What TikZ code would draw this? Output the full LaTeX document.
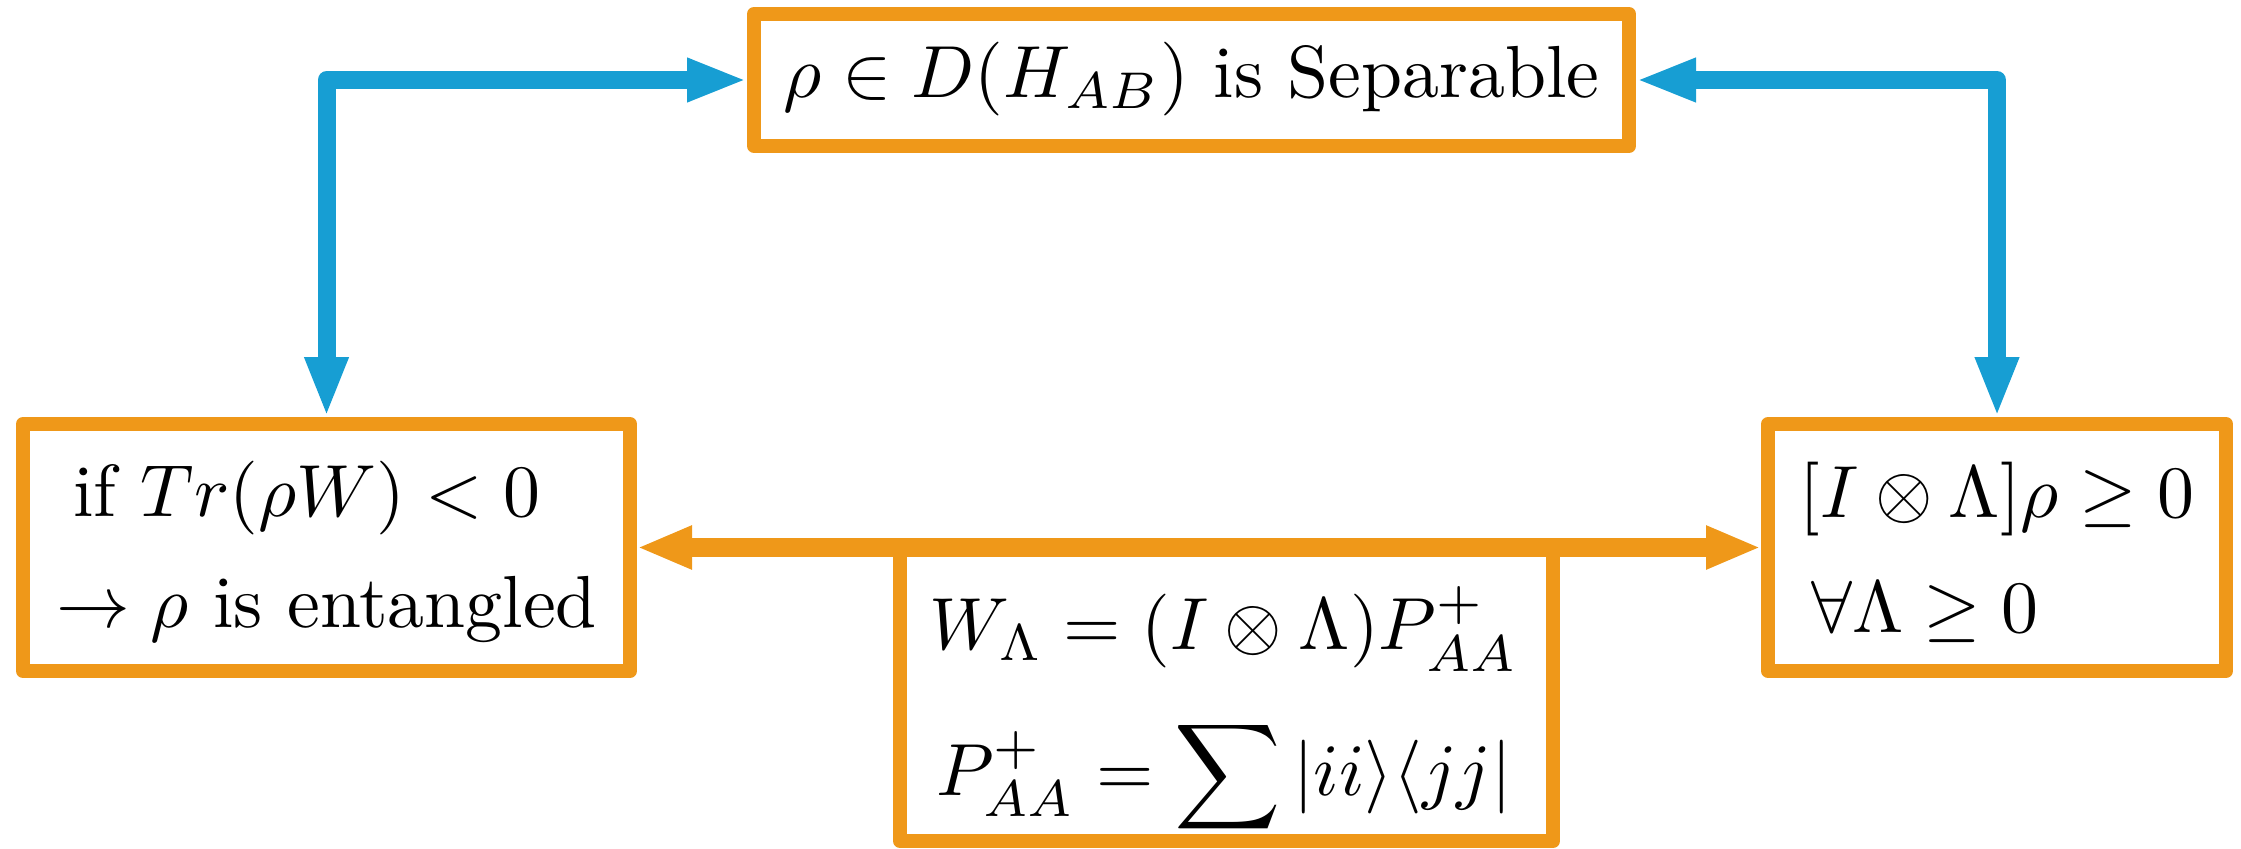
\documentclass[tikz,border=0pt]{standalone}
\usepackage{amsmath,amssymb}
\usepackage{graphicx}
\usepackage{xcolor}
\definecolor{amberline}{HTML}{EF9819}
\definecolor{skyline}{HTML}{179ED3}
\usepackage{tikz}
\usetikzlibrary{arrows.meta,positioning}
% rows of 10pt text, blown up to the size of the boxes
\newcommand{\bigrows}[2][l]{\scalebox{2.1}{\begin{tabular}{@{}#1@{}}#2\end{tabular}}}
\tikzset{
  box/.style   ={draw=amberline,fill=white,line width=1.4mm,line join=round,inner sep=0pt},
  link/.style  ={{Triangle[length=6mm,width=4mm]}-{Triangle[length=6mm,width=4mm]},
                 draw=skyline,line width=1.8mm,line join=round},
  bond/.style  ={{Triangle[length=5.5mm,width=4mm]}-{Triangle[length=5.5mm,width=4mm]},
                 draw=amberline,line width=1.9mm},
}

\begin{document}
\begin{tikzpicture}[x=1cm,y=1cm]
\useasboundingbox (0,0) rectangle (22.41,8.48);
% ---- top box
\node[box,minimum width=8.75cm,minimum height=1.32cm] (sep) at (11.915,7.68)
 {\bigrows{$\rho\in D(H_{AB})$ is Separable}};

% ---- side boxes
\node[box,minimum width=6.07cm,minimum height=2.47cm] (wit) at (3.265,3.005)
 {\bigrows{\rule{0pt}{10.3pt}\hspace{2.3pt}if $Tr(\rho W)<0$\\[3pt]
  $\rightarrow\rho$ is entangled}};
\node[box,minimum width=4.58cm,minimum height=2.47cm] (pos) at (19.97,3.005)
 {\bigrows{\rule{0pt}{11.1pt}$[I\otimes\Lambda]\rho\geq 0$\\[3.6pt]
  \hspace{1.5pt}$\forall\Lambda\geq 0$}};

% ---- bottom box
\node[box,minimum width=6.53cm,minimum height=2.93cm] (cho) at (12.265,1.535) {};
\node[inner sep=0pt] (chotext) at (12.24,1.37)
 {\bigrows[c]{$W_\Lambda=(I\otimes\Lambda)P^+_{AA}$\\[5.6pt]
  $P^+_{AA}=\displaystyle\sum|ii\rangle\langle jj|$}};

% ---- connectors
\draw[bond] (wit) -- (pos);
\draw[link] (sep.west) -| (wit.north);
\draw[link] (sep.east) -| (pos.north);
\end{tikzpicture}
\end{document}
